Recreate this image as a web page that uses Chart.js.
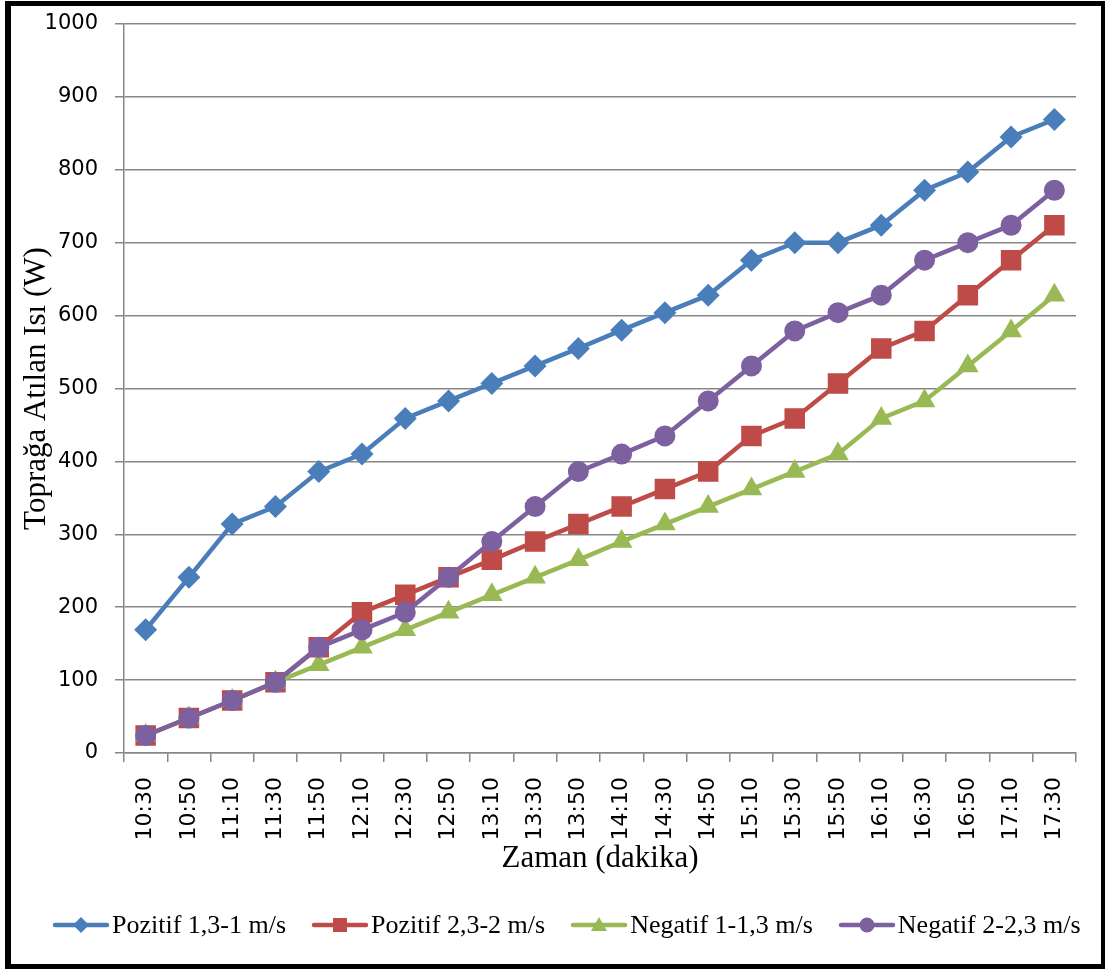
<!DOCTYPE html>
<html>
<head>
<meta charset="utf-8">
<script src="https://cdn.jsdelivr.net/npm/chart.js@4.4.1/dist/chart.umd.min.js"></script>
<style>
  html, body { margin: 0; padding: 0; background: #fff; }
  #wrap { position: relative; width: 1105px; height: 969px; overflow: hidden; }
  #chart { position: absolute; left: 0; top: 0; }
  #frame {
    position: absolute; left: 5px; top: 1px; width: 1100px; height: 968px;
    box-sizing: border-box; border-style: solid; border-color: #000;
    border-width: 5px 4px 5px 6px; pointer-events: none;
  }
  #legend {
    position: absolute; left: 52px; top: 909px; height: 32px;
    display: flex; align-items: center; white-space: nowrap;
    font-family: 'Liberation Serif', serif; font-size: 26px; color: #000;
  }
  #legend .item { display: flex; align-items: center; margin-right: 25px; }
  #legend .item:last-child { margin-right: 0; }
  #legend canvas { display: block; margin-right: 2px; }
</style>
</head>
<body>
<div id="wrap">
  <canvas id="chart" width="1105" height="969"></canvas>
  <div id="legend"></div>
  <div id="frame"></div>
</div>
<script>
// Time of day (every 20 minutes)
const times = ['10:30','10:50','11:10','11:30','11:50','12:10','12:30','12:50','13:10','13:30','13:50',
               '14:10','14:30','14:50','15:10','15:30','15:50','16:10','16:30','16:50','17:10','17:30'];

// Heat rejected to the ground (W)
const pozitif13 = [169, 241, 314, 338, 386, 410, 459, 483, 507, 531, 555, 580, 604, 628, 676, 700, 700, 724, 772, 797, 845, 869];
const pozitif23 = [24, 48, 72, 97, 145, 193, 217, 241, 265, 290, 314, 338, 362, 386, 435, 459, 507, 555, 579, 628, 676, 724];
const negatif1  = [24, 48, 72, 97, 121, 145, 169, 193, 217, 241, 265, 290, 314, 338, 362, 386, 410, 459, 483, 531, 579, 628];
const negatif2  = [24, 48, 72, 97, 145, 169, 193, 241, 290, 338, 386, 410, 435, 483, 531, 579, 604, 628, 676, 700, 724, 772];

const yTicks = [0, 100, 200, 300, 400, 500, 600, 700, 800, 900, 1000];

const seriesNames  = ['Pozitif 1,3-1 m/s', 'Pozitif 2,3-2 m/s', 'Negatif 1-1,3 m/s', 'Negatif 2-2,3 m/s'];
const seriesColors = ['#4A7EBB', '#BE4B48', '#98B954', '#7D60A0'];
const seriesShapes = ['rectRot', 'rect', 'triangle', 'circle'];
const seriesRadii  = [11.5, 14.5, 12.5, 10.5];

// Legend swatch: short line with the series marker in the middle
function legendSwatch(i) {
  const c = document.createElement('canvas');
  c.width = 58; c.height = 22;
  const g = c.getContext('2d');
  const cy = 11, cx = 29;
  g.strokeStyle = seriesColors[i];
  g.lineWidth = 4.5;
  g.lineCap = 'round';
  g.beginPath(); g.moveTo(3, cy); g.lineTo(55, cy); g.stroke();
  g.fillStyle = seriesColors[i];
  g.beginPath();
  const s = seriesShapes[i];
  if (s === 'rectRot') {
    g.moveTo(cx, cy - 8); g.lineTo(cx + 8, cy); g.lineTo(cx, cy + 8); g.lineTo(cx - 8, cy); g.closePath();
  } else if (s === 'rect') {
    g.rect(cx - 7, cy - 7, 14, 14);
  } else if (s === 'triangle') {
    g.moveTo(cx, cy - 8); g.lineTo(cx + 8, cy + 6); g.lineTo(cx - 8, cy + 6); g.closePath();
  } else {
    g.arc(cx, cy, 7.5, 0, Math.PI * 2);
  }
  g.fill();
  return c;
}

// Legend below the chart
const legendEl = document.getElementById('legend');
seriesNames.forEach((name, i) => {
  const item = document.createElement('div');
  item.className = 'item';
  item.appendChild(legendSwatch(i));
  const label = document.createElement('span');
  label.textContent = name;
  item.appendChild(label);
  legendEl.appendChild(item);
});

const seriesData = [pozitif13, pozitif23, negatif1, negatif2];
const drawOrder  = [4, 3, 2, 1];

const datasets = seriesData.map((d, i) => ({
  label: seriesNames[i],
  data: d,
  borderColor: seriesColors[i],
  backgroundColor: seriesColors[i],
  borderWidth: 4.5,
  tension: 0,
  pointStyle: seriesShapes[i],
  pointRadius: seriesRadii[i],
  pointHoverRadius: seriesRadii[i],
  pointBackgroundColor: seriesColors[i],
  pointBorderWidth: 0,
  order: drawOrder[i]
}));

const gridGray = '#878787';

new Chart(document.getElementById('chart'), {
  type: 'line',
  data: { labels: times, datasets },
  options: {
    responsive: false,
    animation: false,
    devicePixelRatio: 1,
    layout: { padding: { left: 12, right: 29, top: 24, bottom: 92 } },
    plugins: {
      tooltip: { enabled: false },
      legend: { display: false }
    },
    scales: {
      x: {
        type: 'category',
        offset: true,
        grid: {
          offset: true,
          drawOnChartArea: false,
          drawTicks: true,
          tickLength: 9,
          color: gridGray,
          lineWidth: 1.5
        },
        border: { display: true, color: gridGray, width: 1.5 },
        ticks: {
          autoSkip: false,
          minRotation: 90,
          maxRotation: 90,
          padding: 15,
          color: '#000',
          font: { family: 'DejaVu Sans', size: 22 }
        },
        title: {
          display: true,
          text: 'Zaman (dakika)',
          color: '#000',
          font: { family: 'Liberation Serif', size: 31 },
          padding: { top: 0, bottom: 0 }
        },
        afterFit: (scale) => { scale.height = 124; }
      },
      y: {
        position: 'left',
        min: 0,
        max: 1000,
        afterBuildTicks: (scale) => { scale.ticks = yTicks.map(v => ({ value: v })); },
        grid: {
          drawOnChartArea: true,
          drawTicks: true,
          tickLength: 9,
          color: gridGray,
          lineWidth: 1.5
        },
        border: { display: true, color: gridGray, width: 1.5 },
        ticks: {
          padding: 17,
          color: '#000',
          font: { family: 'DejaVu Sans', size: 21 },
          callback: (v) => String(v)
        },
        title: {
          display: true,
          text: 'Toprağa Atılan Isı (W)',
          color: '#000',
          font: { family: 'Liberation Serif', size: 31 },
          padding: { top: 6, bottom: 0 }
        },
        afterFit: (scale) => {
          scale.width = 112;
          scale.paddingTop = 0;
          scale.paddingBottom = 0;
        }
      }
    }
  }
});
</script>
</body>
</html>
